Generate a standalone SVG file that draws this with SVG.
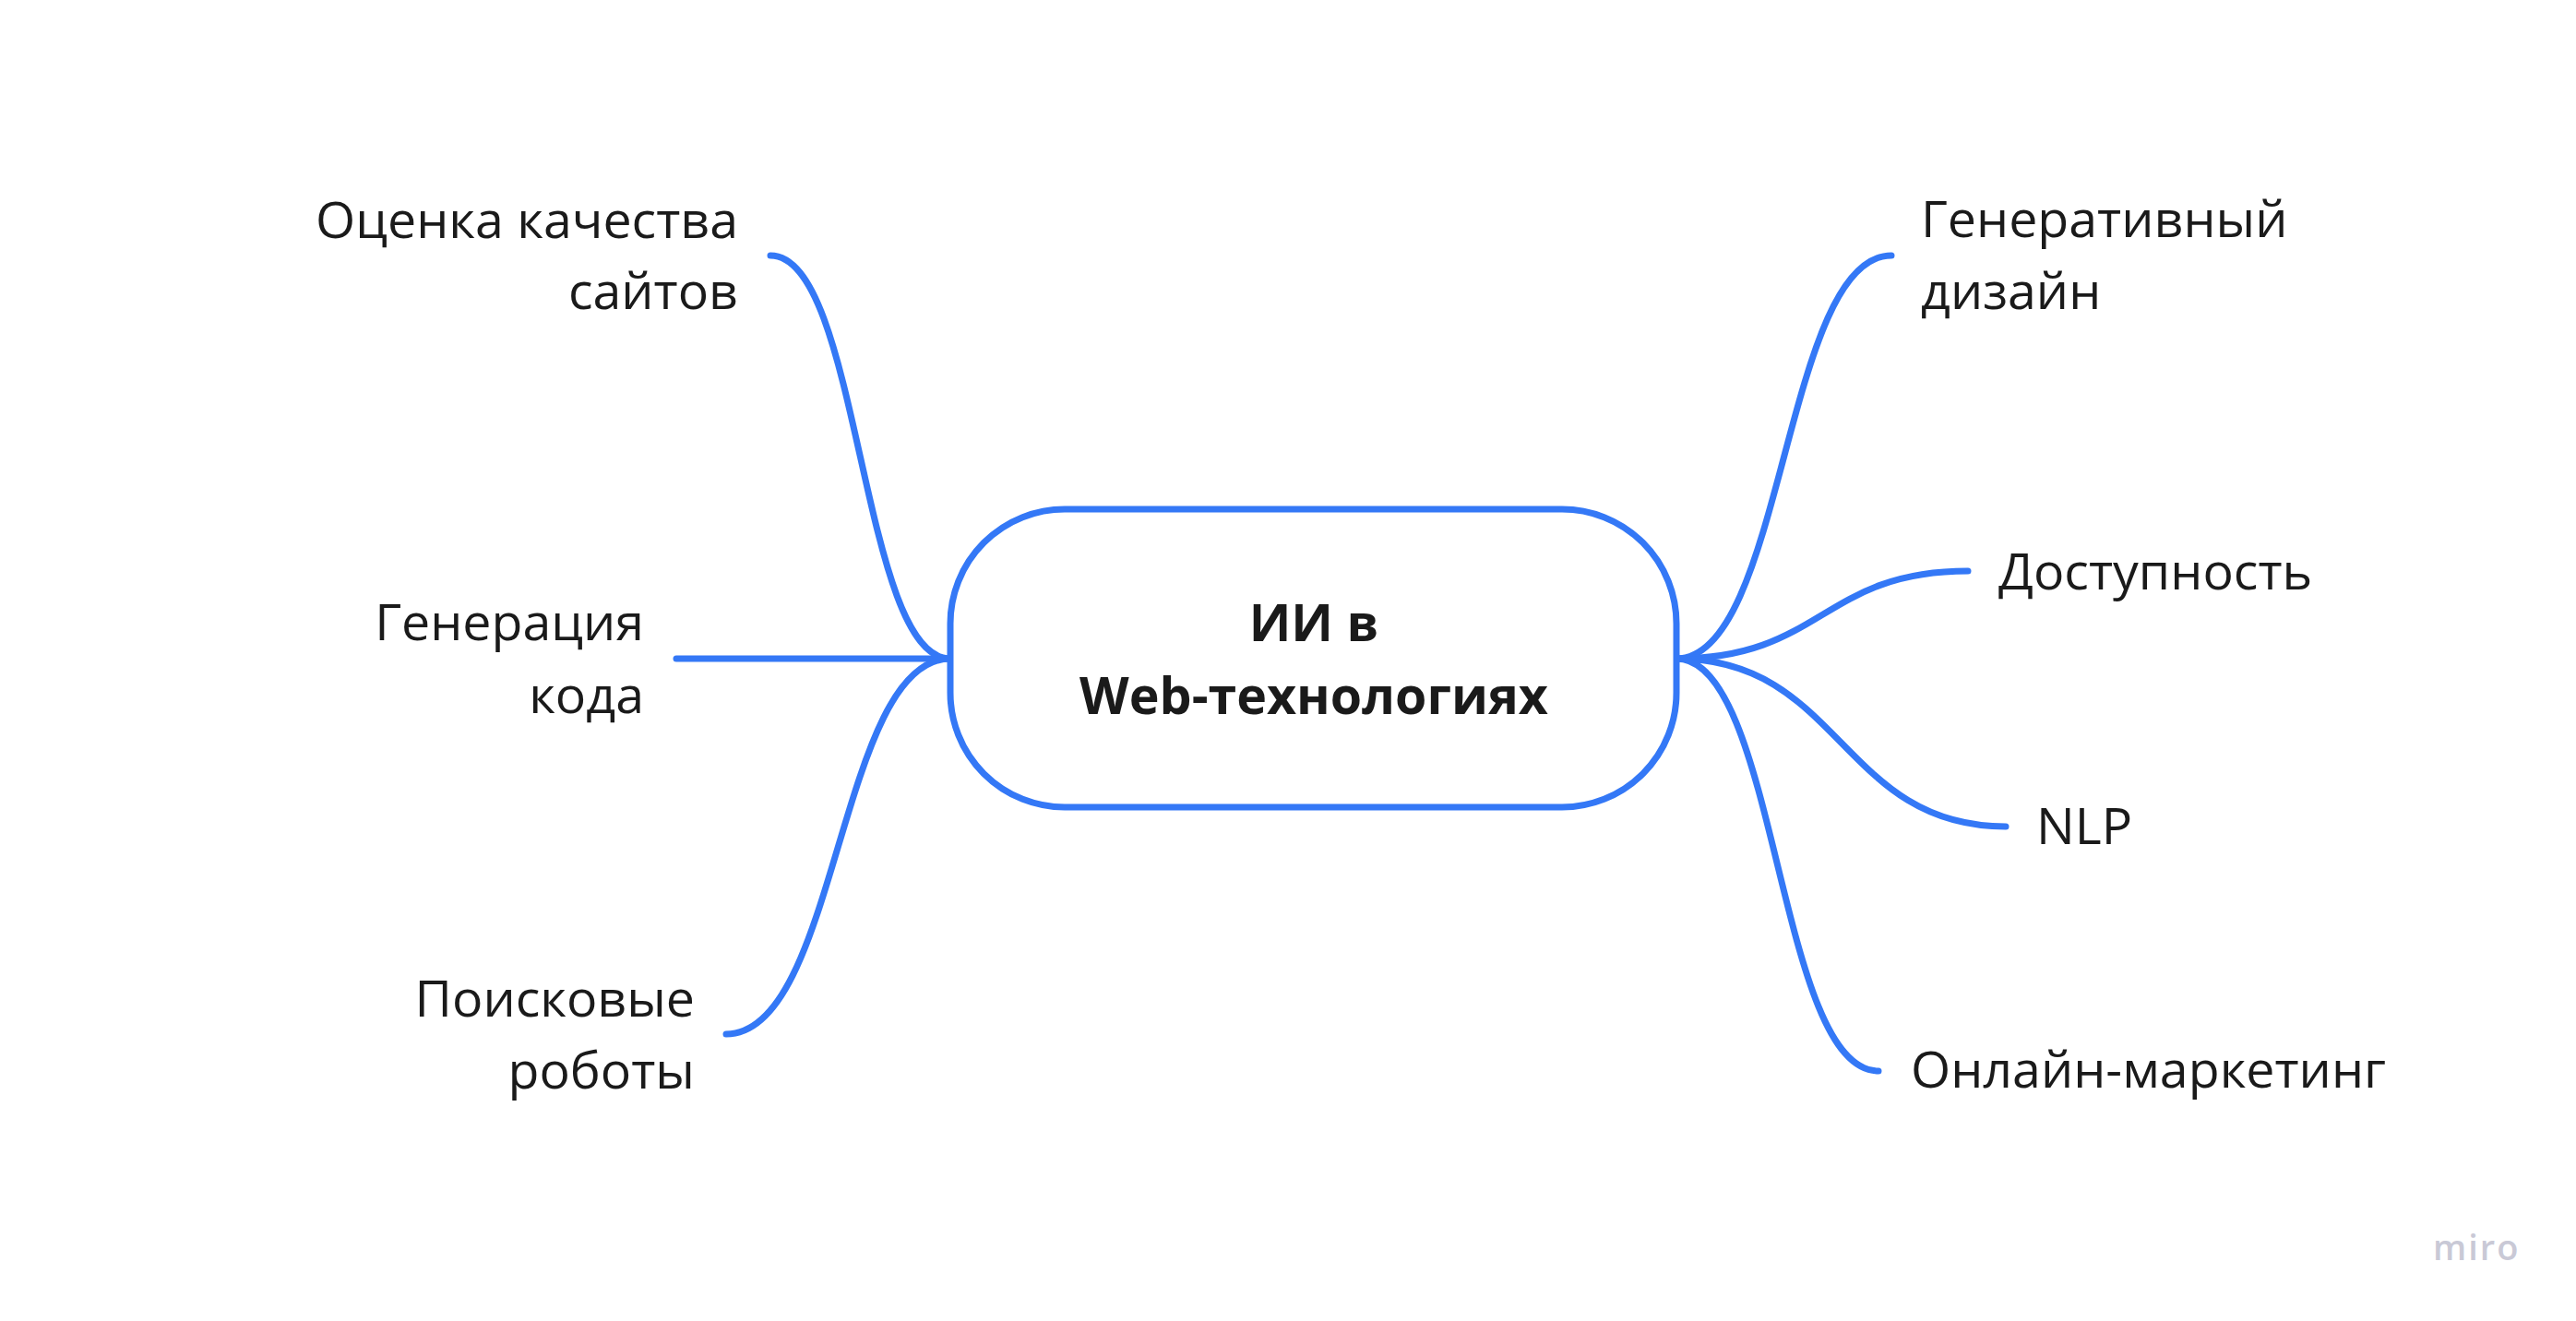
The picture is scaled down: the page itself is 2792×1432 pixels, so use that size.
<svg xmlns="http://www.w3.org/2000/svg" width="2792" height="1432" viewBox="0 0 2792 1432">
<style>
.bg{fill:#ffffff}
.conn{fill:none;stroke:#3478f6;stroke-width:7;stroke-linecap:round;stroke-linejoin:round}
.box{fill:#ffffff;stroke:#3478f6;stroke-width:7}
.lbl{font-family:"Open Sans","Noto Sans","DejaVu Sans",sans-serif;font-size:55.5px;fill:#1a1a1a}
.ctr{font-family:"Open Sans","Noto Sans","DejaVu Sans",sans-serif;font-size:55.5px;font-weight:700;fill:#1a1a1a}
.end{text-anchor:end}
.mid{text-anchor:middle}
.logo{font-family:"Open Sans","Noto Sans",sans-serif;font-size:38px;font-weight:600;fill:#c9c9d6;letter-spacing:2px}
</style>
<rect class="bg" x="0" y="0" width="2792" height="1432"/>
<g id="connectors">
<path class="conn" d="M1030 714 C932.5 714 932.5 277 835 277"/>
<path class="conn" d="M1030 714 L733 714"/>
<path class="conn" d="M1030 714 C908.5 714 908.5 1121 787 1121"/>
<path class="conn" d="M1817 714 C1933.5 714 1933.5 277 2050 277"/>
<path class="conn" d="M1817 714 C1975 714 1975 619 2133 619"/>
<path class="conn" d="M1817 714 C1995.5 714 1995.5 896 2174 896"/>
<path class="conn" d="M1817 714 C1926.5 714 1926.5 1161 2036 1161"/>
</g>
<g id="node-center">
<rect class="box" x="1030" y="552" width="787" height="323" rx="124" ry="124"/>
<text class="ctr mid" x="1424" y="695">ИИ в</text>
<text class="ctr mid" x="1424" y="774">Web-технологиях</text>
</g>
<g id="node-ocenka">
<text class="lbl end" x="800" y="258">Оценка качества</text>
<text class="lbl end" x="800" y="335">сайтов</text>
</g>
<g id="node-generacia">
<text class="lbl end" x="698" y="694">Генерация</text>
<text class="lbl end" x="698" y="773">кода</text>
</g>
<g id="node-poiskovye">
<text class="lbl end" x="753" y="1102">Поисковые</text>
<text class="lbl end" x="753" y="1180">роботы</text>
</g>
<g id="node-generativny">
<text class="lbl" x="2082" y="257">Генеративный</text>
<text class="lbl" x="2082" y="335">дизайн</text>
</g>
<g id="node-dostupnost">
<text class="lbl" x="2166" y="639">Доступность</text>
</g>
<g id="node-nlp">
<text class="lbl" x="2207" y="915">NLP</text>
</g>
<g id="node-marketing">
<text class="lbl" x="2071" y="1179">Онлайн-маркетинг</text>
</g>
<g id="watermark">
<text class="logo" x="2637" y="1366">miro</text>
</g>
</svg>
